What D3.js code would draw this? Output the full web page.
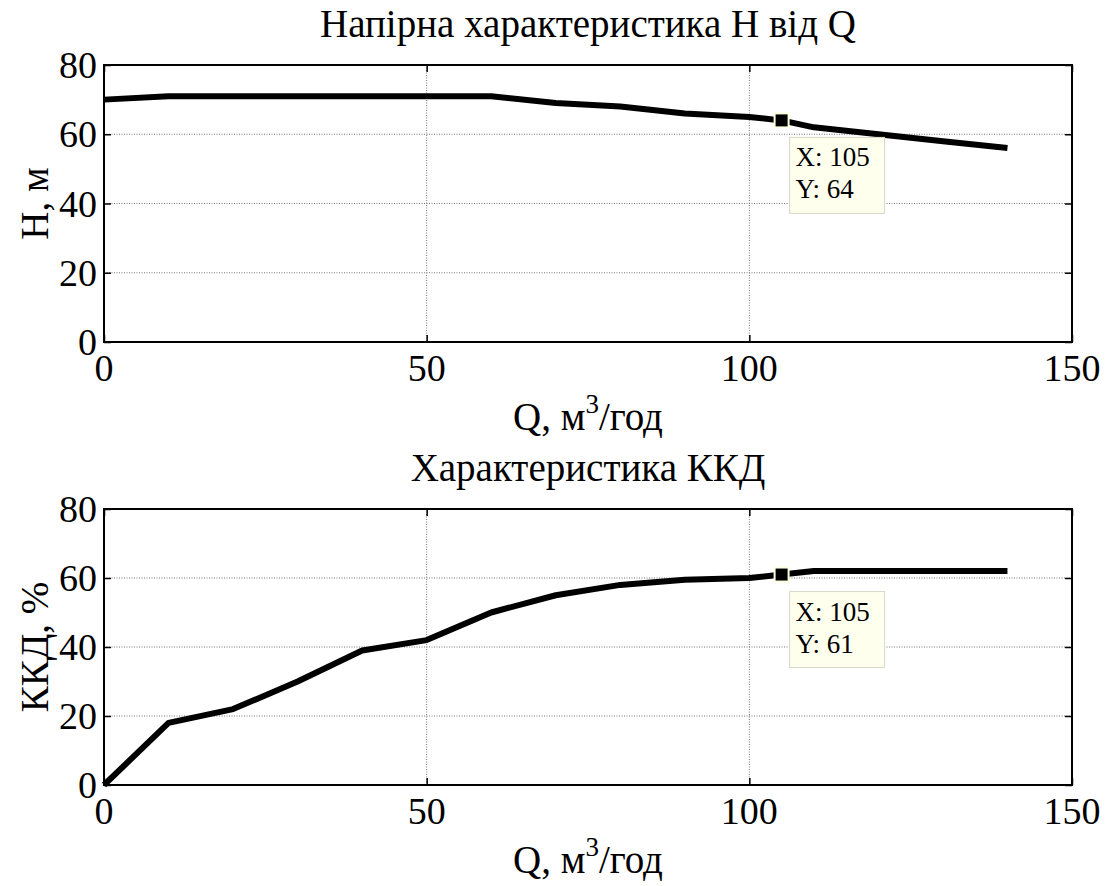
<!DOCTYPE html>
<html>
<head>
<meta charset="utf-8">
<script src="https://cdn.jsdelivr.net/npm/d3@7"></script>
<style>
  body { margin:0; background:#fff; }
  text { font-family: "Liberation Serif", "Times New Roman", serif; fill:#000; }
  .grid line { stroke:#777; stroke-width:1; stroke-dasharray:1,1.5; }
</style>
</head>
<body>
<div id="canvas"></div>
<script>
// data
var flow = [0,10,20,30,40,50,60,70,80,90,100,105,110,120,130,140];
var head = [70,71,71,71,71,71,71,69,68,66,65,64,62,60,58,56];
var eff  = [0,18,22,30,39,42,50,55,58,59.5,60,61,62,62,62,62];
var xTicks = [0,50,100,150];
var yTicks = [0,20,40,60,80];
var tipH = {x:105, y:64};
var tipE = {x:105, y:61};

var W = 1115, H = 886;
var svg = d3.select('#canvas').append('svg')
    .attr('width', W).attr('height', H);

var x = d3.scaleLinear().domain([0,150]).range([104,1072]);

function panel(top, bottom, title, ylab, vals, tip) {
  var y = d3.scaleLinear().domain([0,80]).range([bottom, top]);
  var g = svg.append('g');

  // grid
  var grid = g.append('g').attr('class','grid');
  grid.selectAll('.gx').data(xTicks.slice(1,-1)).enter().append('line')
      .attr('x1', x).attr('x2', x).attr('y1', top).attr('y2', bottom);
  grid.selectAll('.gy').data(yTicks.slice(1,-1)).enter().append('line')
      .attr('x1', x(0)).attr('x2', x(150))
      .attr('y1', function(d){return y(d);}).attr('y2', function(d){return y(d);});

  // ticks inside, all four sides
  var axB = d3.axisBottom(x).tickValues(xTicks).tickSize(-7).tickFormat('');
  var axT = d3.axisTop(x).tickValues(xTicks).tickSize(-7).tickFormat('');
  var axL = d3.axisLeft(y).tickValues(yTicks).tickSize(-7).tickFormat('');
  var axR = d3.axisRight(y).tickValues(yTicks).tickSize(-7).tickFormat('');
  [[axB,'translate(0,'+bottom+')'],[axT,'translate(0,'+top+')'],
   [axL,'translate('+x(0)+',0)'],[axR,'translate('+x(150)+',0)']].forEach(function(a){
    var n = g.append('g').attr('transform', a[1]).call(a[0]);
    n.selectAll('.domain').remove();
    n.selectAll('line').attr('stroke','#000').attr('stroke-width',1.5);
  });

  // box
  g.append('rect').attr('x', x(0)).attr('y', top)
    .attr('width', x(150)-x(0)).attr('height', bottom-top)
    .attr('fill','none').attr('stroke','#000').attr('stroke-width',2);

  // tick labels
  g.selectAll('.xl').data(xTicks).enter().append('text')
    .attr('x', x).attr('y', bottom+39)
    .attr('text-anchor','middle').style('font-size','38px')
    .text(function(d){return d;});
  g.selectAll('.yl').data(yTicks).enter().append('text')
    .attr('x', x(0)-7).attr('y', function(d){return y(d)+13;})
    .attr('text-anchor','end').style('font-size','38px')
    .text(function(d){return d;});

  // titles
  g.append('text').attr('x', (x(0)+x(150))/2).attr('y', top-28)
    .attr('text-anchor','middle').style('font-size','39px').text(title);
  var xl = g.append('text').attr('x', (x(0)+x(150))/2).attr('y', bottom+88)
    .attr('text-anchor','middle').style('font-size','39px');
  xl.append('tspan').text('Q, м');
  xl.append('tspan').attr('dy', -17).style('font-size','27px').text('3');
  xl.append('tspan').attr('dy', 17).text('/год');
  g.append('text')
    .attr('transform','translate(48,'+((top+bottom)/2)+') rotate(-90)')
    .attr('text-anchor','middle').style('font-size','39px').text(ylab);

  // line
  var line = d3.line().x(function(d,i){return x(flow[i]);}).y(function(d){return y(d);});
  g.append('path').datum(vals).attr('d', line)
    .attr('fill','none').attr('stroke','#000').attr('stroke-width',6)
    .attr('stroke-linejoin','round');

  // data tip
  var mx = x(tip.x), my = y(tip.y);
  g.append('rect').attr('x', mx-7).attr('y', my-7).attr('width',14).attr('height',14)
    .attr('fill','#000').attr('stroke','#ffffe0').attr('stroke-width',2);
  var bx = mx+8, by = my+17;
  g.append('rect').attr('x', bx).attr('y', by).attr('width', 95).attr('height', 76)
    .attr('fill','#ffffee').attr('stroke','#d8d8c8').attr('stroke-width',1);
  g.append('text').attr('x', bx+6).attr('y', by+29).style('font-size','27px')
    .text('X: ' + tip.x);
  g.append('text').attr('x', bx+6).attr('y', by+61).style('font-size','27px')
    .text('Y: ' + tip.y);
}

panel(65, 342, 'Напірна характеристика H від Q', 'H, м', head, tipH);
panel(509, 785, 'Характеристика ККД', 'ККД, %', eff, tipE);
</script>
</body>
</html>
